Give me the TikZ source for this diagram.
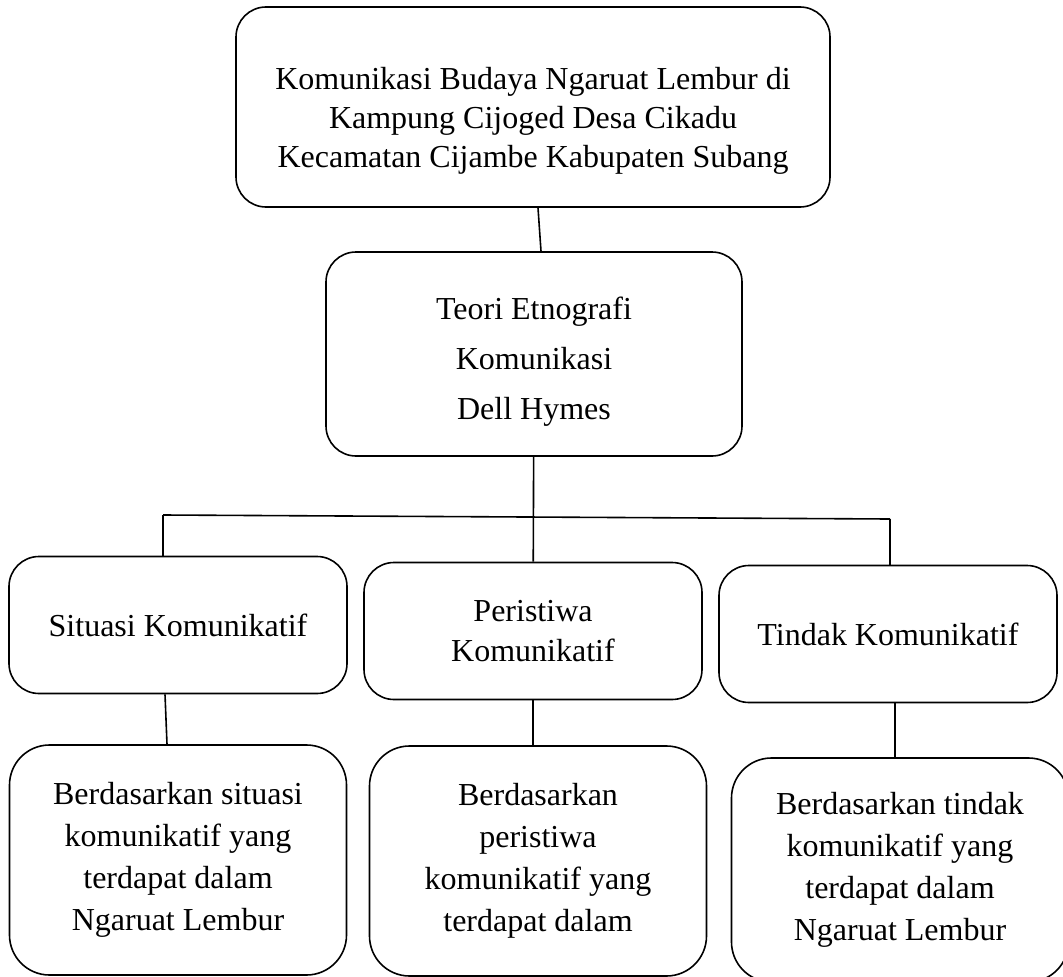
\documentclass[tikz,border=0pt]{standalone}
\usepackage{fontspec}
\setmainfont{Liberation Serif}

\begin{document}
\begin{tikzpicture}[x=1pt,y=-1pt,line width=1.6pt,
    kotak/.style={draw,rounded corners=30pt,align=center,inner sep=0pt},
    bawah/.style={kotak,rounded corners=40pt,minimum width=337pt,minimum height=230pt,
      font=\fontsize{32}{42}\selectfont},
    tengah/.style={kotak,minimum width=338pt,minimum height=137pt,
      font=\fontsize{32}{40}\selectfont}]
      \useasboundingbox (0,0) rectangle (1063,977);

      \node[kotak,minimum width=594pt,minimum height=200pt,font=\fontsize{32}{39}\selectfont]
        (judul) at (533,107) {\rule{0pt}{50pt}Komunikasi Budaya Ngaruat Lembur di\\Kampung Cijoged Desa Cikadu\\Kecamatan Cijambe Kabupaten Subang};
      \node[kotak,minimum width=416pt,minimum height=204pt,font=\fontsize{32}{50}\selectfont]
        (teori) at (534,354) {\rule{0pt}{38pt}Teori Etnografi\\Komunikasi\\Dell Hymes};

      \node[tengah] (situasi) at (178,625) {Situasi Komunikatif};
      \node[tengah] (peristiwa) at (533,631) {Peristiwa\\Komunikatif};
      \node[tengah] (tindak) at (888,634) {Tindak Komunikatif};

      \node[bawah] (bsituasi) at (178,860) {Berdasarkan situasi\\komunikatif yang\\terdapat dalam\\Ngaruat Lembur};
      \node[bawah] (bperistiwa) at (538,861) {Berdasarkan\\peristiwa\\komunikatif yang\\terdapat dalam};
      \node[bawah,minimum height=224pt] (btindak) at (900,870) {Berdasarkan tindak\\komunikatif yang\\terdapat dalam\\Ngaruat Lembur};

      \coordinate (cabangkiri) at (163,515);
      \coordinate (cabangkanan) at (890,519);

      \draw ([xshift=5pt]judul.south) -- ([xshift=7pt]teori.north);
      \draw (teori) -- (peristiwa);
      \draw (cabangkiri) -- (cabangkanan);
      \draw (cabangkiri) -- (cabangkiri |- situasi.north);
      \draw (cabangkanan) -- (cabangkanan |- tindak.north);

      \draw ([xshift=-13pt]situasi.south) -- ([xshift=-11pt]bsituasi.north);
      \draw (peristiwa) -- (peristiwa |- bperistiwa.north);
      \draw ([xshift=7pt]tindak.south) -- ([xshift=-5pt]btindak.north);
    \end{tikzpicture}
\end{document}
